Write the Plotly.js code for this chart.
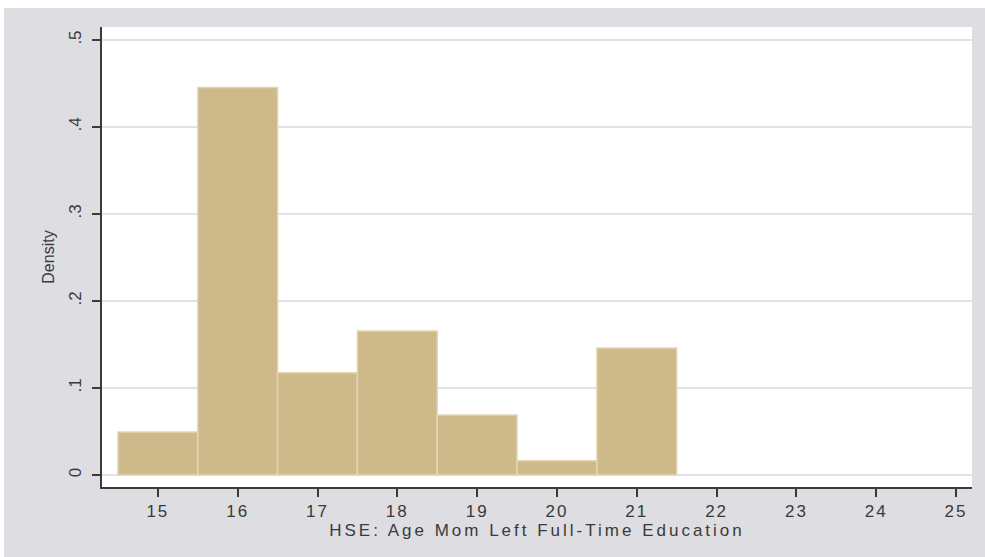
<!DOCTYPE html>
<html>
<head>
<meta charset="utf-8">
<script src="https://cdn.plot.ly/plotly-3.0.1.min.js"></script>
<style>
html, body { margin: 0; padding: 0; background: #ffffff; width: 985px; height: 557px; overflow: hidden; }
#chart { position: absolute; left: 4px; top: 8px; width: 981px; height: 549px; }
#chart .xtick text { letter-spacing: 2px; }
#chart .xtitle { letter-spacing: 3px; }
</style>
</head>
<body>
<div id="chart"></div>
<script>
// Histogram bins (age, bin width 1) and density values
const ages = [15, 16, 17, 18, 19, 20, 21];
const density = [0.0495, 0.4455, 0.1175, 0.1655, 0.069, 0.0163, 0.146];
const yTickVals = [0, 0.1, 0.2, 0.3, 0.4, 0.5];
const yTickText = ["0", ".1", ".2", ".3", ".4", ".5"];
const xTickVals = [15, 16, 17, 18, 19, 20, 21, 22, 23, 24, 25];

const trace = {
  type: 'bar',
  x: ages,
  y: density,
  width: 1,
  marker: { color: '#cdb98a', line: { color: '#e3d6b0', width: 1.5 } },
  hoverinfo: 'x+y'
};

const layout = {
  width: 981,
  height: 549,
  paper_bgcolor: '#dddde2',
  plot_bgcolor: '#ffffff',
  margin: { l: 98, r: 13, t: 19, b: 70 },
  showlegend: false,
  bargap: 0,
  font: { family: 'Liberation Sans, Arial, sans-serif', size: 17, color: '#3a3a3a' },
  xaxis: {
    range: [14.3, 25.2],
    tickvals: xTickVals,
    ticktext: xTickVals.map(String),
    ticks: 'outside', ticklen: 8, tickwidth: 2, tickcolor: '#3a3a3a',
    showline: true, linecolor: '#3a3a3a', linewidth: 2,
    showgrid: false, zeroline: false,
    tickfont: { size: 17, color: '#3a3a3a' },
    title: { text: 'HSE: Age Mom Left Full-Time Education', font: { size: 17, color: '#3a3a3a' }, standoff: 0 }
  },
  yaxis: {
    range: [-0.0138, 0.515],
    tickvals: yTickVals,
    ticktext: yTickText,
    tickangle: -90,
    ticks: 'outside', ticklen: 8, tickwidth: 2, tickcolor: '#3a3a3a',
    showline: true, linecolor: '#3a3a3a', linewidth: 2,
    showgrid: true, gridcolor: '#e2e2ea', gridwidth: 1.5,
    zeroline: false,
    tickfont: { size: 17, color: '#3a3a3a' },
    ticklabelstandoff: 4,
    title: { text: 'Density', font: { size: 16, color: '#3a3a3a' }, standoff: 8 }
  }
};

Plotly.newPlot('chart', [trace], layout, { displayModeBar: false, staticPlot: true });
</script>
</body>
</html>
